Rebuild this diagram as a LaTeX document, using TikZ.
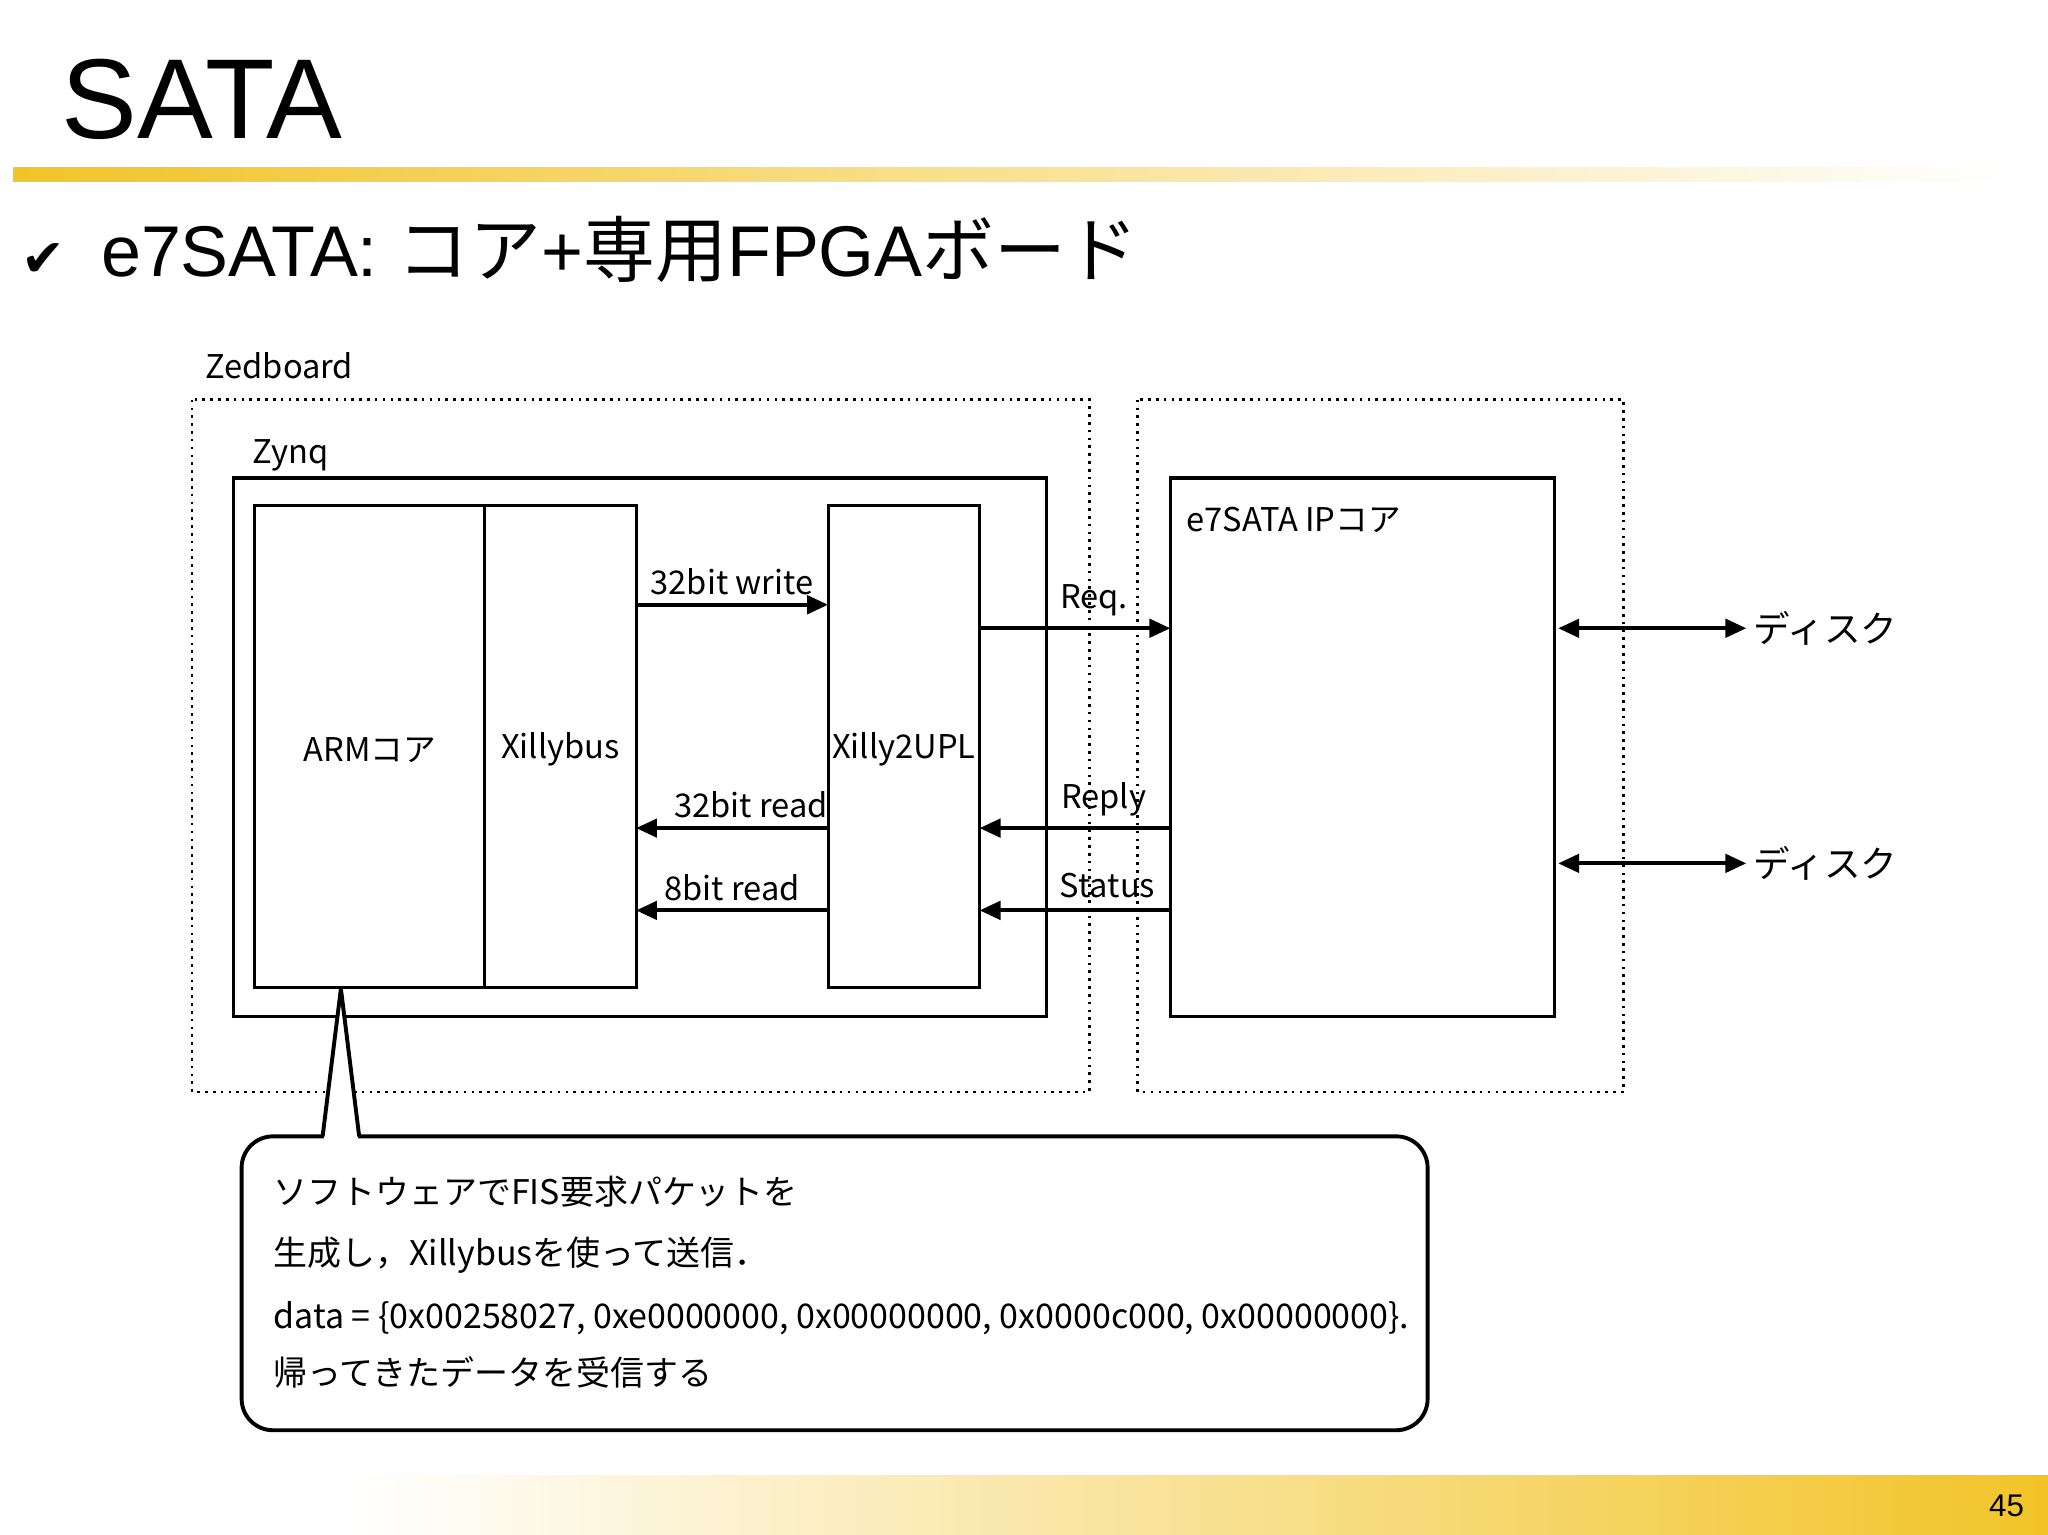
\documentclass[tikz,border=0pt]{standalone}
\usepackage{fontspec}
\setmainfont{Liberation Sans}
\newfontfamily\jp{Noto Sans CJK JP}
\newfontfamily\djv{DejaVu Sans}
\usetikzlibrary{arrows.meta}
\definecolor{gold}{RGB}{242,196,40}
\begin{document}
\begin{tikzpicture}[x=0.5pt,y=-0.5pt,
  box/.style={draw,line width=1.2pt},
  dbox/.style={draw,line width=1pt,dotted},
  lab/.style={font=\jp\fontsize{12.5}{14}\selectfont,inner sep=0},
  clab/.style={font=\jp\fontsize{13}{15}\selectfont,inner sep=0},
  arr/.style={line width=1.5pt,-{Triangle[length=8pt,width=7pt]}},
  darr/.style={line width=1.5pt,{Triangle[length=8pt,width=7pt]}-{Triangle[length=8pt,width=7pt]}}]
\useasboundingbox (0,0) rectangle (1568,1175);
\fill[white] (0,0) rectangle (1568,1175);
\node[anchor=base west,inner sep=0,font=\fontsize{43.5}{50}\selectfont] (title) at (47,106) {SATA};
\shade[left color=gold,right color=white] (10,128) rectangle (1540,139);
\node[anchor=base west,inner sep=0,font=\djv\fontsize{20}{22}\selectfont] (chk) at (16,212) {✔};
\node[anchor=base west,inner sep=0,font=\fontsize{27.5}{30}\selectfont] (sub) at (77,212) {e7SATA: {\jp コア}+{\jp 専用}FPGA{\jp ボード}};
\shade[left color=white,right color=gold] (270,1130) rectangle (1568,1175);
\node[anchor=base east,inner sep=0,font=\fontsize{12}{14}\selectfont] (pg) at (1550,1161) {45};
% boxes
\draw[dbox] (147,306) rectangle (834,836);
\draw[dbox] (871,306) rectangle (1243,836);
\node[lab,anchor=base west] (zed) at (157,290) {Zedboard};
\node[box,minimum width=311pt,minimum height=206pt,inner sep=0] (zynq) at (490,572) {};
\node[lab,anchor=base west] (zl) at (193,355) {Zynq};
\node[box,minimum width=88pt,minimum height=184.5pt] (arm) at (283,571.5) {};
\node[lab] at (283,574) {ARMコア};
\node[box,minimum width=58pt,minimum height=184.5pt] (xb) at (429,571.5) {};
\node[lab] at (429,574) {Xillybus};
\node[box,minimum width=58pt,minimum height=184.5pt] (xu) at (692,571.5) {};
\node[lab] at (692,574) {Xilly2UPL};
\node[box,minimum width=147pt,minimum height=206pt] (e7) at (1043,572) {};
\node[lab,anchor=base west] (e7l) at (908,407) {e7SATA IPコア};
% arrows
\coordinate (a1) at (487,463); \coordinate (b1) at (634,463);
\draw[arr] (a1) -- (b1) node[lab,midway,above=3pt] {32bit write};
\coordinate (a2) at (750,481); \coordinate (b2) at (896,481);
\draw[arr] (a2) -- (b2) node[lab,pos=0.6,above=4pt] {Req.};
\coordinate (a3) at (896,634); \coordinate (b3) at (750,634);
\draw[arr] (a3) -- (b3) node[lab,pos=0.35,above=4pt] {Reply};
\coordinate (a4) at (896,697); \coordinate (b4) at (750,697);
\draw[arr] (a4) -- (b4) node[lab,pos=0.33,above=4pt] {Status};
\coordinate (a5) at (634,634); \coordinate (b5) at (487,634);
\draw[arr] (a5) -- (b5) node[lab,pos=0.4,above=3pt] {32bit read};
\coordinate (a6) at (634,697); \coordinate (b6) at (487,697);
\draw[arr] (a6) -- (b6) node[lab,pos=0.5,above=3pt] {8bit read};
\coordinate (d1) at (1193,481); \coordinate (e1) at (1337,481);
\draw[darr] (d1) -- (e1) node[lab,right=2pt,font=\jp\fontsize{14}{16}\selectfont] {ディスク};
\coordinate (d2) at (1193,661); \coordinate (e2) at (1337,661);
\draw[darr] (d2) -- (e2) node[lab,right=2pt,font=\jp\fontsize{14}{16}\selectfont] {ディスク};
% callout
\coordinate (tip) at (261,757);
\draw[line width=1.5pt,rounded corners=12pt,fill=white] (247,870) -- (1093,870) -- (1093,1095) -- (185,1095) -- (185,870) -- cycle;
\fill[white] (248,866) -- (tip) -- (274,866) -- (274,872) -- (248,872) -- cycle;
\draw[line width=1.5pt,line join=bevel] (247,870) -- (tip) -- (275,870);
\node[clab,anchor=base west] (t1) at (209,922) {ソフトウェアでFIS要求パケットを};
\node[clab,anchor=base west] (t2) at (209,969) {生成し，Xillybusを使って送信．};
\node[clab,anchor=base west] (t3) at (209,1017) {data = \{0x00258027, 0xe0000000, 0x00000000, 0x0000c000, 0x00000000\}.};
\node[clab,anchor=base west] (t4) at (209,1061) {帰ってきたデータを受信する};
\end{tikzpicture}
\end{document}
